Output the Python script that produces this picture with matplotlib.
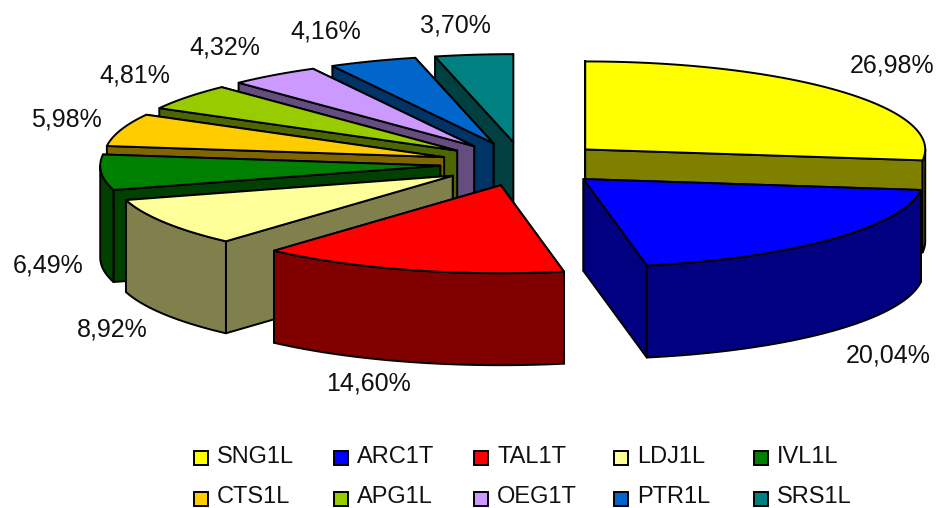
import numpy as np
import matplotlib
matplotlib.use("Agg")
import matplotlib.pyplot as plt
from matplotlib.patches import Polygon, Rectangle

plt.rcParams['font.family'] = ['Liberation Sans', 'DejaVu Sans']

names = ['SNG1L', 'ARC1T', 'TAL1T', 'LDJ1L', 'IVL1L',
         'CTS1L', 'APG1L', 'OEG1T', 'PTR1L', 'SRS1L']
values = [26.98, 20.04, 14.60, 8.92, 6.49, 5.98, 4.81, 4.32, 4.16, 3.70]
colors = ['#FFFF00', '#0000FF', '#FF0000', '#FFFF99', '#008000',
          '#FFCC00', '#99CC00', '#CC99FF', '#0066CC', '#008080']

# where each percentage sits, pixels
label_x = [892, 888, 369, 112, 48, 66, 135, 225, 326, 455]
label_y = [66, 355, 384, 329, 265, 119, 75, 48, 32, 25]

# pie geometry, pixels
cx, cy = 523, 164
rx, ry = 340, 88
explode_x, explode_y = 83, 22
depth = 92
lw = 1.4


def shade(col, f=0.5):
    r, g, b = matplotlib.colors.to_rgb(col)
    return (r*f, g*f, b*f)


def rim(x0, y0, a):
    # angle in degrees, clockwise from 12 o'clock
    a = np.radians(a)
    return np.column_stack([x0 + rx*np.sin(a), y0 - ry*np.cos(a)])


def wall(top):
    # top edge plus the same edge moved down by the pie height
    low = top[::-1] + [0, depth]
    return np.vstack([top, low])


fig = plt.figure(figsize=(9.36, 5.08), dpi=100)
ax = fig.add_axes([0, 0, 1, 1])
ax.set_xlim(0, 936)
ax.set_ylim(508, 0)
ax.axis('off')

edges = np.cumsum([0] + values) / sum(values) * 360
mids = (edges[:-1] + edges[1:]) / 2
apex_x = cx + explode_x*np.sin(np.radians(mids))
apex_y = cy - explode_y*np.cos(np.radians(mids))

# back slices first, so the nearer ones paint over them
for i in np.argsort(apex_y):
    a0, a1 = edges[i], edges[i+1]
    ax0, ay0 = apex_x[i], apex_y[i]
    apex = np.array([[ax0, ay0]])
    side = shade(colors[i])

    p0 = np.vstack([apex, rim(ax0, ay0, [a0])])
    p1 = np.vstack([apex, rim(ax0, ay0, [a1])])
    sides = sorted([p0, p1], key=lambda p: p[:, 1].mean())
    for p in sides:
        ax.add_patch(Polygon(wall(p), fc=side, ec='black', lw=lw, joinstyle='round'))

    # outer wall, only the part facing the viewer
    b0, b1 = max(a0, 90), min(a1, 270)
    if b1 > b0:
        arc = rim(ax0, ay0, np.linspace(b0, b1, 60))
        ax.add_patch(Polygon(wall(arc), fc=side, ec='black', lw=lw, joinstyle='round'))

    arc = rim(ax0, ay0, np.linspace(a0, a1, 80))
    ax.add_patch(Polygon(np.vstack([apex, arc]), fc=colors[i], ec='black', lw=lw,
                         joinstyle='round'))

for v, x, y in zip(values, label_x, label_y):
    ax.text(x, y, f'{v:.2f}%'.replace('.', ','), fontsize=18, color='#111111',
            ha='center', va='center')

# legend, two rows of five
for i, (n, c) in enumerate(zip(names, colors)):
    x = 194 + 140*(i % 5)
    y = 458 + 41*(i // 5)
    ax.add_patch(Rectangle((x, y-7), 14, 14, fc=c, ec='black', lw=lw))
    ax.text(x+23, y-1 - (i // 5), n, fontsize=17, color='#111111', ha='left', va='center')

plt.savefig('out.png', dpi=100)
